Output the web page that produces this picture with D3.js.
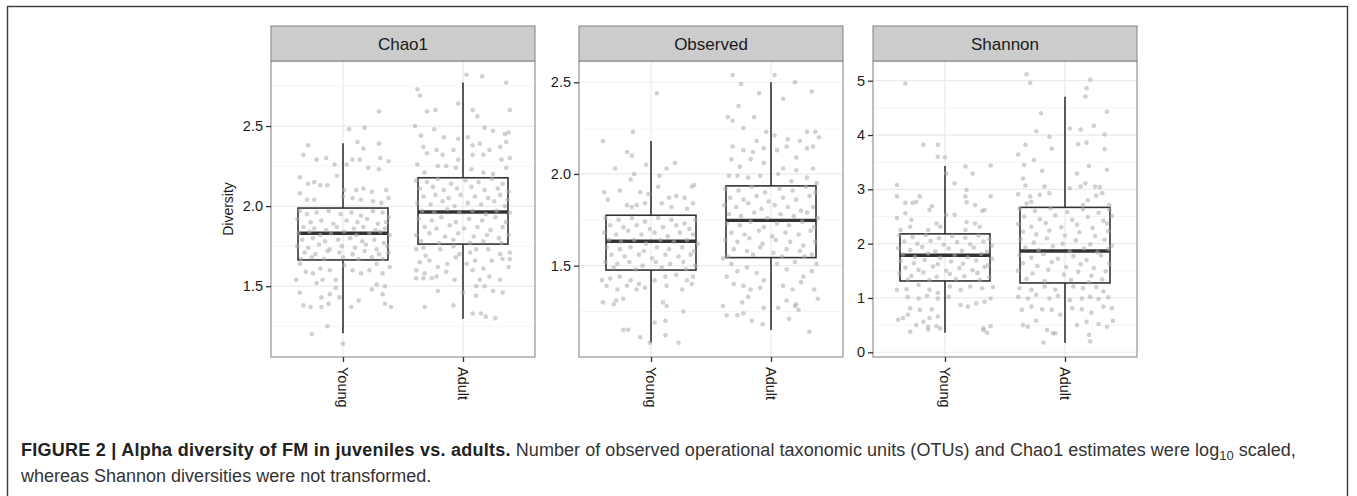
<!DOCTYPE html>
<html>
<head>
<meta charset="utf-8">
<script src="https://cdn.jsdelivr.net/npm/d3@7/dist/d3.min.js"></script>
<style>
  body { margin: 0; background: #fff; }
  svg { display: block; font-family: "Liberation Sans", Arial, sans-serif; }
</style>
</head>
<body>
<svg id="fig" width="1357" height="496"></svg>
<script>
"use strict";

// ---- data ----
var metrics = ["Chao1", "Observed", "Shannon"];
var groups = ["Young", "Adult"];

var chao1Ticks = [1.5, 2.0, 2.5];
var observedTicks = [1.5, 2.0, 2.5];
var shannonTicks = [0, 1, 2, 3, 4, 5];

// y limits of each panel (ggplot expanded range)
var chao1Domain = [1.058, 2.906];
var observedDomain = [1.002, 2.616];
var shannonDomain = [-0.087, 5.363];

// box stats: lower whisker, Q1, median, Q3, upper whisker
var chao1YoungBox = [1.206, 1.664, 1.831, 1.988, 2.392];
var chao1AdultBox = [1.297, 1.763, 1.963, 2.177, 2.771];
var observedYoungBox = [1.080, 1.476, 1.633, 1.775, 2.180];
var observedAdultBox = [1.149, 1.544, 1.747, 1.935, 2.500];
var shannonYoungBox = [0.361, 1.313, 1.786, 2.180, 3.430];
var shannonAdultBox = [0.177, 1.276, 1.866, 2.668, 4.705];

// jittered samples: [x offset in category units, value]
var chao1Young = [
  [.30,2.59],[.05,2.48],[.18,2.49],[-.29,2.38],[-.33,2.32],[.12,2.40],[.17,2.36],[.30,2.39],[-.22,2.29],[-.14,2.30],
  [-.07,2.26],[.08,2.29],[.14,2.29],[.31,2.30],[.38,2.28],[.03,2.26],[-.05,2.19],[.21,2.24],[.30,2.23],[-.36,2.18],
  [-.29,2.14],[-.24,2.15],[-.19,2.13],[-.13,2.13],[.01,2.10],[.11,2.10],[.17,2.11],[.24,2.09],[.36,2.10],[-.36,2.08],
  [-.30,2.04],[-.24,2.04],[.00,2.06],[.08,2.05],[.15,2.04],[.25,2.03],[.32,2.02],[.38,2.05],
  [-.36,1.97],[-.30,1.95],[-.22,1.96],[-.12,1.97],[-.02,1.95],[.07,1.96],[.15,1.94],[.25,1.97],[.33,1.96],[.38,1.93],
  [-.38,1.92],[-.27,1.90],[-.18,1.91],[-.08,1.89],[.03,1.91],[.12,1.90],[.20,1.92],[.29,1.89],[.36,1.90],
  [-.33,1.87],[-.24,1.86],[-.14,1.85],[-.05,1.87],[.09,1.86],[.17,1.87],[.27,1.85],[.35,1.86],
  [-.37,1.83],[-.28,1.84],[-.19,1.82],[-.10,1.83],[.01,1.84],[.11,1.82],[.22,1.83],[.31,1.84],[.39,1.82],
  [-.34,1.79],[-.25,1.80],[-.15,1.78],[-.04,1.79],[.06,1.80],[.16,1.78],[.26,1.79],[.34,1.77],
  [-.38,1.75],[-.29,1.74],[-.20,1.76],[-.11,1.73],[-.01,1.75],[.10,1.74],[.19,1.76],[.28,1.73],[.37,1.75],
  [-.32,1.71],[-.23,1.70],[-.13,1.72],[-.03,1.71],[.08,1.70],[.18,1.72],[.30,1.70],[.38,1.71],
  [-.35,1.67],[-.26,1.68],[-.16,1.67],[.00,1.68],[.13,1.67],[.24,1.68],[.33,1.67],
  [-.36,1.64],[-.31,1.59],[-.39,1.54],[-.25,1.58],[-.19,1.61],[-.11,1.60],[-.06,1.54],[.01,1.63],[.08,1.60],[.15,1.58],
  [.22,1.60],[.28,1.64],[.33,1.58],[.39,1.62],[-.17,1.54],[-.22,1.52],[.28,1.51],[.35,1.50],[-.36,1.46],[-.18,1.43],
  [-.11,1.45],[-.06,1.49],[.13,1.41],[.24,1.48],[.33,1.45],[-.33,1.38],[-.27,1.37],[-.18,1.37],[-.12,1.39],[-.03,1.43],
  [.35,1.39],[.40,1.37],[-.13,1.25],[-.26,1.20],[.00,1.14],[.07,1.37]
];
var chao1Adult = [
  [.03,2.82],[.16,2.81],[.36,2.77],[-.38,2.73],[-.36,2.69],[-.30,2.59],[-.23,2.60],[-.04,2.64],[.08,2.60],[.12,2.56],
  [.39,2.60],[-.40,2.50],[-.35,2.44],[-.24,2.48],[-.16,2.43],[-.04,2.42],[.04,2.43],[.08,2.38],[.14,2.39],[.18,2.49],
  [.25,2.47],[.35,2.45],[.38,2.46],[.36,2.40],[.31,2.37],[-.33,2.37],[-.30,2.33],[-.22,2.35],[-.17,2.32],[-.08,2.35],
  [-.04,2.29],[.08,2.32],[.17,2.32],[.22,2.35],[.32,2.29],[.39,2.30],[-.38,2.26],[-.32,2.21],[-.21,2.25],[-.14,2.25],
  [-.06,2.24],[.07,2.23],[.17,2.21],[.25,2.20],[.36,2.24],
  [-.39,2.16],[-.30,2.15],[-.21,2.17],[-.10,2.14],[.02,2.16],[.13,2.15],[.24,2.17],[.33,2.14],
  [-.36,2.11],[-.25,2.12],[-.16,2.10],[-.05,2.11],[.07,2.12],[.18,2.10],[.29,2.11],[.38,2.09],
  [-.33,2.06],[-.23,2.07],[-.12,2.05],[-.02,2.07],[.10,2.06],[.21,2.05],[.31,2.07],[.37,2.04],
  [-.38,2.02],[-.27,2.01],[-.17,2.03],[-.07,2.00],[.04,2.02],[.15,2.01],[.26,2.03],[.35,2.00],
  [-.34,1.97],[-.24,1.96],[-.13,1.98],[-.03,1.96],[.08,1.97],[.19,1.95],[.28,1.97],[.39,1.96],
  [-.37,1.92],[-.26,1.91],[-.18,1.93],[-.06,1.90],[.05,1.92],[.16,1.91],[.27,1.93],[.36,1.90],
  [-.32,1.87],[-.22,1.86],[-.11,1.88],[.01,1.86],[.12,1.87],[.23,1.85],[.33,1.87],
  [-.39,1.82],[-.28,1.83],[-.15,1.81],[-.04,1.83],[.09,1.81],[.20,1.82],[.30,1.80],[.38,1.82],
  [-.35,1.78],[-.20,1.77],[-.08,1.79],[.06,1.77],[.17,1.78],[.32,1.77],
  [-.39,1.73],[-.33,1.74],[-.31,1.69],[-.19,1.73],[-.08,1.75],[-.03,1.70],[.06,1.71],[.11,1.73],[.21,1.73],[.31,1.70],
  [.39,1.71],[-.36,1.65],[-.28,1.66],[-.21,1.62],[-.13,1.64],[-.06,1.68],[.03,1.64],[.10,1.66],[.17,1.61],[.24,1.66],
  [.33,1.67],[.39,1.67],[-.39,1.60],[-.32,1.58],[-.22,1.56],[-.14,1.59],[-.07,1.54],[.08,1.60],[.14,1.54],[.22,1.56],
  [.31,1.54],[.38,1.62],[-.39,1.55],[-.33,1.55],[-.26,1.55],[-.21,1.47],[.11,1.50],[.18,1.50],[.25,1.47],[.33,1.46],
  [.00,1.46],[.11,1.44],[-.32,1.37],[-.08,1.38],[.08,1.33],[.15,1.33],[.19,1.31],[.27,1.30]
];
var observedYoung = [
  [.05,2.44],[-.15,2.23],[-.40,2.18],[-.20,2.12],[-.16,2.10],[-.30,2.03],[-.04,2.05],[-.14,2.00],[.07,1.99],[.13,2.03],
  [.20,2.06],[.34,1.93],[.36,1.94],[-.39,1.90],[-.26,1.91],[-.17,1.97],[-.09,1.90],[-.02,1.89],[.06,1.93],[.15,1.87],
  [.21,1.88],[.28,1.87],[.35,1.84],[-.36,1.86],[-.20,1.83],[-.16,1.82],[-.12,1.83],[-.05,1.84],[.09,1.84],[.17,1.82],
  [.30,1.81],
  [-.38,1.76],[-.27,1.75],[-.16,1.76],[-.05,1.74],[.06,1.76],[.17,1.75],[.28,1.73],[.37,1.75],
  [-.34,1.72],[-.23,1.71],[-.12,1.72],[-.01,1.70],[.10,1.71],[.21,1.72],[.32,1.70],
  [-.39,1.68],[-.29,1.67],[-.19,1.69],[-.08,1.67],[.03,1.68],[.14,1.66],[.24,1.68],[.35,1.67],
  [-.35,1.64],[-.25,1.63],[-.14,1.64],[-.04,1.62],[.08,1.64],[.19,1.63],[.30,1.64],[.39,1.62],
  [-.37,1.60],[-.26,1.59],[-.17,1.60],[-.06,1.58],[.05,1.60],[.15,1.59],[.26,1.60],[.36,1.58],
  [-.33,1.56],[-.22,1.55],[-.10,1.56],[.01,1.54],[.12,1.56],[.23,1.55],[.33,1.56],
  [-.38,1.52],[-.28,1.51],[-.18,1.52],[-.07,1.50],[.04,1.52],[.16,1.51],[.27,1.52],[.37,1.50],
  [-.31,1.49],[-.13,1.48],[.09,1.49],[.29,1.48],
  [-.41,1.42],[-.34,1.43],[-.26,1.44],[-.17,1.42],[-.10,1.40],[-.05,1.38],[.03,1.42],[.12,1.44],[.21,1.45],[.30,1.42],
  [.35,1.44],[-.37,1.39],[-.28,1.37],[-.20,1.39],[-.12,1.37],[.13,1.39],[.26,1.37],[.34,1.40],[-.40,1.30],[-.31,1.29],
  [-.23,1.32],[-.29,1.31],[.10,1.30],[.13,1.28],[.27,1.25],[.12,1.20],[-.23,1.15],[-.19,1.15],[-.09,1.11],[-.01,1.08],
  [.12,1.12],[.23,1.08],[.03,1.19]
];
var observedAdult = [
  [-.32,2.54],[.03,2.54],[-.25,2.49],[.20,2.50],[-.10,2.44],[.34,2.45],[.10,2.41],[-.27,2.37],[-.36,2.31],[-.32,2.29],
  [-.23,2.25],[-.14,2.31],[.03,2.21],[-.12,2.18],[-.04,2.23],[.14,2.19],[.24,2.18],[.30,2.23],[.37,2.23],[.40,2.20],
  [-.32,2.15],[-.23,2.13],[-.15,2.12],[-.06,2.14],[.05,2.13],[.13,2.15],[.21,2.09],[.30,2.14],[.35,2.15],[-.33,2.08],
  [-.26,2.04],[-.17,2.08],[-.06,2.06],[.10,2.03],[.21,2.02],[.35,2.03],[-.35,1.99],[-.28,1.99],[-.19,1.98],[-.09,1.99],
  [.06,2.00],[.17,1.96],[.30,1.98],[.38,1.95],
  [-.38,1.92],[-.27,1.91],[-.16,1.93],[-.05,1.90],[.07,1.92],[.18,1.91],[.29,1.93],[.37,1.90],
  [-.34,1.87],[-.23,1.86],[-.12,1.88],[-.02,1.85],[.10,1.87],[.21,1.86],[.32,1.88],
  [-.39,1.83],[-.29,1.82],[-.19,1.84],[-.08,1.81],[.03,1.83],[.14,1.82],[.25,1.80],[.35,1.82],
  [-.35,1.78],[-.25,1.77],[-.14,1.79],[-.03,1.76],[.08,1.78],[.19,1.77],[.30,1.79],[.39,1.76],
  [-.37,1.73],[-.26,1.72],[-.17,1.74],[-.06,1.71],[.05,1.73],[.15,1.72],[.26,1.74],[.36,1.71],
  [-.33,1.68],[-.22,1.67],[-.10,1.69],[.01,1.66],[.12,1.68],[.23,1.67],[.33,1.69],
  [-.38,1.64],[-.28,1.63],[-.18,1.65],[-.07,1.62],[.04,1.64],[.16,1.63],[.27,1.61],[.37,1.63],
  [-.31,1.59],[-.20,1.58],[-.09,1.60],[.02,1.57],[.13,1.59],[.24,1.58],[.34,1.56],
  [-.36,1.55],[-.15,1.56],[.09,1.55],[.28,1.55],
  [-.40,1.54],[-.33,1.51],[-.37,1.44],[-.28,1.47],[-.20,1.49],[-.12,1.46],[-.06,1.42],[.05,1.51],[.13,1.48],[.20,1.52],
  [.27,1.44],[.34,1.47],[.38,1.51],[-.31,1.40],[-.23,1.39],[-.17,1.37],[-.09,1.38],[.10,1.39],[.18,1.37],[.25,1.41],
  [.36,1.37],[.39,1.32],[-.24,1.30],[-.19,1.33],[-.06,1.27],[.06,1.27],[.13,1.31],[.21,1.29],[-.40,1.28],[-.37,1.23],
  [-.23,1.24],[-.16,1.20],[-.07,1.18],[.20,1.28],[.23,1.26],[.15,1.21],[.32,1.14],[-.28,1.23]
];
var shannonYoung = [
  [-.33,4.95],[-.18,3.82],[-.06,3.82],[-.06,3.60],[.00,3.59],[.01,3.29],[.17,3.42],[.38,3.44],[.23,3.29],[-.40,3.08],
  [.08,3.11],[.18,2.99],[-.40,2.87],[-.21,2.87],[-.27,2.75],[-.33,2.75],[-.24,2.77],[-.11,2.69],[.17,2.87],[.18,2.76],
  [.25,2.71],[.33,2.62],[.38,2.87],[-.40,2.47],[-.33,2.56],[-.28,2.44],[-.13,2.62],[-.07,2.37],[.01,2.53],[.08,2.53],
  [.18,2.40],[.31,2.60],[.25,2.37],[-.37,2.25],[-.29,2.31],[-.14,2.25],[-.04,2.31],[.17,2.25],[.29,2.31],
  [-.38,2.15],[-.27,2.12],[-.16,2.16],[-.05,2.10],[.06,2.14],[.17,2.11],[.28,2.15],[.37,2.08],
  [-.34,2.04],[-.23,2.00],[-.12,2.05],[-.01,1.98],[.10,2.03],[.21,1.99],[.32,2.04],[.39,1.96],
  [-.39,1.92],[-.29,1.88],[-.19,1.94],[-.08,1.86],[.03,1.91],[.14,1.87],[.24,1.93],[.35,1.85],
  [-.35,1.80],[-.25,1.76],[-.14,1.82],[-.04,1.74],[.08,1.79],[.19,1.75],[.30,1.81],[.39,1.72],
  [-.37,1.68],[-.26,1.64],[-.17,1.70],[-.06,1.62],[.05,1.67],[.15,1.63],[.26,1.69],[.36,1.60],
  [-.33,1.56],[-.22,1.52],[-.10,1.58],[.01,1.50],[.12,1.55],[.23,1.51],[.33,1.57],
  [-.38,1.45],[-.28,1.41],[-.18,1.47],[-.07,1.39],[.04,1.44],[.16,1.40],[.27,1.46],[.37,1.38],
  [-.31,1.34],[-.13,1.33],[.09,1.35],[.29,1.33],
  [.40,1.20],[-.40,1.15],[-.32,1.16],[-.22,1.24],[-.13,1.15],[-.06,1.09],[.04,1.21],[.13,1.15],[.21,1.21],[.31,1.18],
  [-.31,1.02],[-.22,0.99],[-.15,1.04],[-.06,0.99],[.03,1.02],[.13,0.87],[.19,0.84],[.26,0.90],[.33,0.93],[.38,0.99],
  [-.29,0.81],[-.21,0.78],[-.11,0.79],[-.39,0.60],[-.35,0.63],[-.31,0.69],[-.18,0.56],[-.13,0.63],[-.06,0.66],[-.24,0.50],
  [-.14,0.47],[-.07,0.48],[-.04,0.44],[-.29,0.38],[-.14,0.42],[.32,0.41],[.35,0.36],[.38,0.48],[.32,0.44]
];
var shannonAdult = [
  [-.32,5.12],[-.29,4.96],[.21,5.02],[.18,4.86],[.17,4.71],[.35,4.43],[-.20,4.40],[-.24,4.07],[.04,4.12],[.13,4.10],
  [.24,4.17],[.33,4.01],[-.13,3.97],[-.33,3.82],[.11,3.83],[.18,3.86],[.20,3.43],[-.11,3.75],[-.26,3.54],[-.39,3.64],
  [.33,3.74],[-.34,3.45],[-.19,3.34],[-.35,3.20],[.10,3.29],[.17,3.11],[.35,3.36],[-.33,3.07],[-.17,3.05],[.04,3.02],
  [.13,3.05],[.25,3.05],[.29,3.04],[-.39,2.91],[-.29,2.87],[-.21,2.90],[-.13,2.93],[.26,2.88],[.31,2.93],[.19,2.80],
  [.37,2.71],[-.32,2.74],[-.28,2.77],[.15,2.71],
  [-.38,2.64],[-.25,2.60],[-.12,2.65],[.02,2.58],[.15,2.63],[.28,2.57],[.37,2.62],
  [-.34,2.50],[-.21,2.45],[-.08,2.52],[.06,2.44],[.19,2.49],[.32,2.42],[.39,2.51],
  [-.39,2.36],[-.28,2.31],[-.16,2.38],[-.03,2.30],[.10,2.35],[.23,2.29],[.35,2.37],
  [-.35,2.22],[-.24,2.17],[-.13,2.24],[.00,2.15],[.12,2.21],[.25,2.14],[.36,2.23],
  [-.37,2.08],[-.26,2.02],[-.15,2.10],[-.02,2.00],[.09,2.06],[.21,1.99],[.33,2.07],[.39,1.96],
  [-.33,1.93],[-.22,1.88],[-.10,1.95],[.04,1.86],[.16,1.91],[.27,1.84],[.36,1.90],
  [-.38,1.79],[-.28,1.74],[-.18,1.81],[-.06,1.72],[.07,1.77],[.18,1.70],[.30,1.78],
  [-.35,1.64],[-.23,1.59],[-.11,1.66],[.01,1.57],[.13,1.62],[.24,1.55],[.37,1.63],
  [-.39,1.50],[-.27,1.45],[-.14,1.52],[-.01,1.43],[.11,1.48],[.22,1.41],[.34,1.49],
  [-.32,1.35],[-.17,1.31],[.05,1.33],[.20,1.29],[.31,1.34],
  [-.38,1.18],[-.28,1.15],[-.17,1.21],[-.08,1.15],[.07,1.21],[.15,1.18],[.26,1.20],[.32,1.12],[-.39,1.02],[-.31,0.99],
  [-.24,1.06],[-.13,0.99],[-.06,1.04],[.04,0.96],[.14,0.99],[.21,1.02],[.28,0.98],[.36,1.01],[-.36,0.78],[-.28,0.84],
  [-.19,0.79],[-.11,0.78],[-.04,0.69],[.06,0.81],[.14,0.79],[.22,0.73],[.32,0.84],[.39,0.81],[-.35,0.50],[-.31,0.47],
  [-.24,0.58],[-.15,0.41],[-.10,0.35],[.10,0.50],[.18,0.56],[.20,0.32],[.28,0.52],[.35,0.47],[.40,0.58],[-.18,0.18],
  [-.08,0.35],[.21,0.20]
];

// ---- layout ----
var svg = d3.select("#fig");
var panelLeft = [271, 579, 873];
var panelW = 264;
var stripTop = 26, panelTop = 61, panelBottom = 357;
var lineCol = "#333333";
var gridMajor = "#ebebeb", gridMinor = "#f5f5f5";

var panels = [
  { name: metrics[0], domain: chao1Domain, ticks: chao1Ticks, fmt: d3.format(".1f"),
    boxes: [chao1YoungBox, chao1AdultBox], points: [chao1Young, chao1Adult] },
  { name: metrics[1], domain: observedDomain, ticks: observedTicks, fmt: d3.format(".1f"),
    boxes: [observedYoungBox, observedAdultBox], points: [observedYoung, observedAdult] },
  { name: metrics[2], domain: shannonDomain, ticks: shannonTicks, fmt: d3.format("d"),
    boxes: [shannonYoungBox, shannonAdultBox], points: [shannonYoung, shannonAdult] }
];

// outer frame of the figure
svg.append("rect")
  .attr("x", 7.5).attr("y", 6.5)
  .attr("width", 1340).attr("height", 520)
  .attr("fill", "none")
  .attr("stroke", "#3a3a3a")
  .attr("stroke-width", 1.4);

panels.forEach(function (p, pi) {
  var g = svg.append("g").attr("transform", "translate(" + panelLeft[pi] + ",0)");

  var x = d3.scalePoint().domain(groups).range([0, panelW]).padding(0.6);
  var y = d3.scaleLinear().domain(p.domain).range([panelBottom, panelTop]);
  var step = x.step();

  // minor grid halfway between major ticks
  var minor = [];
  var dt = p.ticks[1] - p.ticks[0];
  for (var i = -1; i < p.ticks.length; i++) {
    var v = p.ticks[0] + (i + 0.5) * dt;
    if (v > p.domain[0] && v < p.domain[1]) minor.push(v);
  }

  g.selectAll(".minor").data(minor).enter().append("line")
    .attr("x1", 0).attr("x2", panelW)
    .attr("y1", function (d) { return y(d); })
    .attr("y2", function (d) { return y(d); })
    .attr("stroke", gridMinor).attr("stroke-width", 1);

  g.selectAll(".major").data(p.ticks).enter().append("line")
    .attr("x1", 0).attr("x2", panelW)
    .attr("y1", function (d) { return y(d); })
    .attr("y2", function (d) { return y(d); })
    .attr("stroke", gridMajor).attr("stroke-width", 1.2);

  g.selectAll(".vmajor").data(groups).enter().append("line")
    .attr("x1", function (d) { return x(d); })
    .attr("x2", function (d) { return x(d); })
    .attr("y1", panelTop).attr("y2", panelBottom)
    .attr("stroke", gridMajor).attr("stroke-width", 1.2);

  // boxplots
  var bw = step * 0.75;
  groups.forEach(function (grp, gi) {
    var b = p.boxes[gi];
    var cx = x(grp);
    var bg = g.append("g");
    bg.append("line")
      .attr("x1", cx).attr("x2", cx)
      .attr("y1", y(b[3])).attr("y2", y(b[4]))
      .attr("stroke", lineCol).attr("stroke-width", 1.6);
    bg.append("line")
      .attr("x1", cx).attr("x2", cx)
      .attr("y1", y(b[0])).attr("y2", y(b[1]))
      .attr("stroke", lineCol).attr("stroke-width", 1.6);
    bg.append("rect")
      .attr("x", cx - bw / 2).attr("width", bw)
      .attr("y", y(b[3])).attr("height", y(b[1]) - y(b[3]))
      .attr("fill", "none")
      .attr("stroke", lineCol).attr("stroke-width", 1.6);
    bg.append("line")
      .attr("x1", cx - bw / 2).attr("x2", cx + bw / 2)
      .attr("y1", y(b[2])).attr("y2", y(b[2]))
      .attr("stroke", lineCol).attr("stroke-width", 3.4);
  });

  // jittered points on top
  groups.forEach(function (grp, gi) {
    g.append("g").selectAll("circle")
      .data(p.points[gi]).enter().append("circle")
      .attr("cx", function (d) { return x(grp) + d[0] * step; })
      .attr("cy", function (d) { return y(d[1]); })
      .attr("r", 2.3)
      .attr("fill", "#a9a9a9")
      .attr("fill-opacity", 0.55);
  });

  // panel border
  g.append("rect")
    .attr("x", 0).attr("y", panelTop)
    .attr("width", panelW).attr("height", panelBottom - panelTop)
    .attr("fill", "none").attr("stroke", "#8a8a8a").attr("stroke-width", 1.1);

  // strip
  g.append("rect")
    .attr("x", 0).attr("y", stripTop)
    .attr("width", panelW).attr("height", panelTop - stripTop)
    .attr("fill", "#cccccc").attr("stroke", "#8a8a8a").attr("stroke-width", 1.1);
  g.append("text")
    .attr("x", panelW / 2).attr("y", 50)
    .attr("text-anchor", "middle")
    .attr("font-size", 17)
    .attr("fill", "#1a1a1a")
    .text(p.name);

  // y axis
  var ya = g.append("g")
    .call(d3.axisLeft(y).tickValues(p.ticks).tickFormat(p.fmt).tickSize(5).tickPadding(3));
  ya.select(".domain").remove();
  ya.selectAll("line").attr("stroke", lineCol).attr("stroke-width", 1.3);
  ya.selectAll("text").attr("font-size", 14.5).attr("fill", "#1a1a1a")
    .attr("font-family", "Liberation Sans, Arial, sans-serif");

  // x axis, labels turned 90 degrees
  var xa = g.append("g")
    .attr("transform", "translate(0," + panelBottom + ")")
    .call(d3.axisBottom(x).tickSize(5));
  xa.select(".domain").remove();
  xa.selectAll("line").attr("stroke", lineCol).attr("stroke-width", 1.3);
  xa.selectAll("text")
    .attr("font-size", 14.5).attr("fill", "#1a1a1a")
    .attr("font-family", "Liberation Sans, Arial, sans-serif")
    .attr("transform", "rotate(90)")
    .attr("x", 10).attr("y", 0).attr("dy", "0.35em")
    .style("text-anchor", "start");
});

// y axis title
svg.append("text")
  .attr("transform", "translate(228," + (panelTop + panelBottom) / 2 + ") rotate(-90)")
  .attr("text-anchor", "middle")
  .attr("dy", "0.35em")
  .attr("font-size", 14)
  .attr("fill", "#1a1a1a")
  .text("Diversity");

// caption
var cap = svg.append("text")
  .attr("x", 21).attr("y", 456)
  .attr("font-size", 18)
  .attr("fill", "#333");
cap.append("tspan").attr("font-weight", "bold").attr("fill", "#222")
  .attr("letter-spacing", 0.25)
  .text("FIGURE 2 | Alpha diversity of FM in juveniles vs. adults.");
cap.append("tspan")
  .attr("letter-spacing", 0.05)
  .text(" Number of observed operational taxonomic units (OTUs) and Chao1 estimates were log");
cap.append("tspan").attr("font-size", 13).attr("dy", 4).text("10");
cap.append("tspan").attr("dy", -4).text(" scaled,");

svg.append("text")
  .attr("x", 21).attr("y", 482)
  .attr("font-size", 18)
  .attr("fill", "#333")
  .text("whereas Shannon diversities were not transformed.");
</script>
</body>
</html>
